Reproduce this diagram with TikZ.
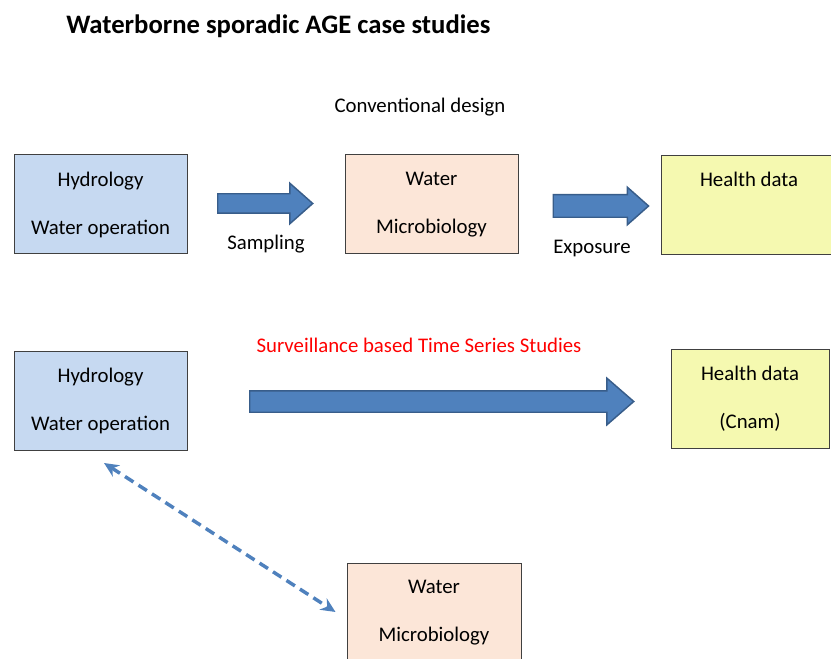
\documentclass[tikz,border=0pt]{standalone}
\usepackage{fontspec}
\setmainfont{Carlito}
\usetikzlibrary{arrows.meta,positioning,shapes.arrows}
\definecolor{ageHydro}{HTML}{C6D9F1}
\definecolor{agePeach}{HTML}{FCE6D8}
\definecolor{ageHealth}{HTML}{F5F9B0}
\definecolor{ageEdge}{HTML}{404040}
\definecolor{ageArrow}{HTML}{4F81BD}
\definecolor{ageArrowEdge}{HTML}{385D8A}
\tikzset{
  databox/.style={draw=ageEdge,line width=.75pt,minimum width=129.75pt,
    minimum height=74.25pt,align=center,inner sep=0pt,
    font=\fontsize{15.6}{36}\selectfont},
  blockarrow/.style={single arrow,draw=ageArrowEdge,fill=ageArrow,anchor=tail,
    line width=1.1pt,inner xsep=0pt,single arrow tip angle=83},
  caption/.style={font=\fontsize{15.6}{19}\selectfont,inner sep=0pt},
  dashlink/.style={{Stealth[length=11pt,width=10pt]}-{Stealth[length=11pt,width=10pt]},
    ageArrow,line width=2.6pt,dash pattern=on 7.5pt off 4.5pt}
}

\begin{document}
\begin{tikzpicture}[x=.75pt,y=-.75pt]
  \useasboundingbox (0,0) rectangle (831,659);
  \node[anchor=west,inner sep=0pt,font=\fontsize{20}{24}\selectfont\bfseries] (title) at (66,26)
       {Waterborne sporadic AGE case studies};

  % conventional design
  \node[caption] (convLbl) at (420,107) {Conventional design};
  \node[databox,fill=ageHydro] (hydroA) at (100.5,204.5) {Hydrology\\Water operation};
  \node[databox,fill=agePeach] (waterA) at (431.5,204.5) {Water\\Microbiology};
  \node[databox,fill=ageHealth,minimum width=132pt] (healthA) at (749,205.5)
       {Health data\\\vphantom{g}};
  \node[blockarrow,minimum height=71.25pt,inner ysep=6.75pt,
        single arrow head extend=7.9pt] (arrSampling) at (217,203.5) {};
  \node[blockarrow,minimum height=71.5pt,inner ysep=7.9pt,
        single arrow head extend=5.6pt] (arrExposure) at (552.5,206) {};
  \node[caption] (sampLbl) at (266,244) {Sampling};
  \node[caption] (expoLbl) at (592,249) {Exposure};

  % surveillance time series
  \node[caption,text=red] (survLbl) at (419,345) {Surveillance based Time Series Studies};
  \node[databox,fill=ageHydro] (hydroB) at (100.5,400.5) {Hydrology\\Water operation};
  \node[databox,fill=ageHealth,minimum width=118.5pt] (healthB) at (750,398.5) {Health data\\(Cnam)};
  \node[blockarrow,minimum height=288pt,inner ysep=7.5pt,
        single arrow head extend=9.4pt,single arrow tip angle=82] (arrSeries) at (249,401.5) {};
  \node[databox,fill=agePeach,minimum width=130.5pt] (waterB) at (434,612.5) {Water\\Microbiology};
  \draw[dashlink] ([shift={(3.5,12.5)}]hydroB.south) -- ([shift={(-11,-0.5)}]waterB.west);
\end{tikzpicture}
\end{document}
